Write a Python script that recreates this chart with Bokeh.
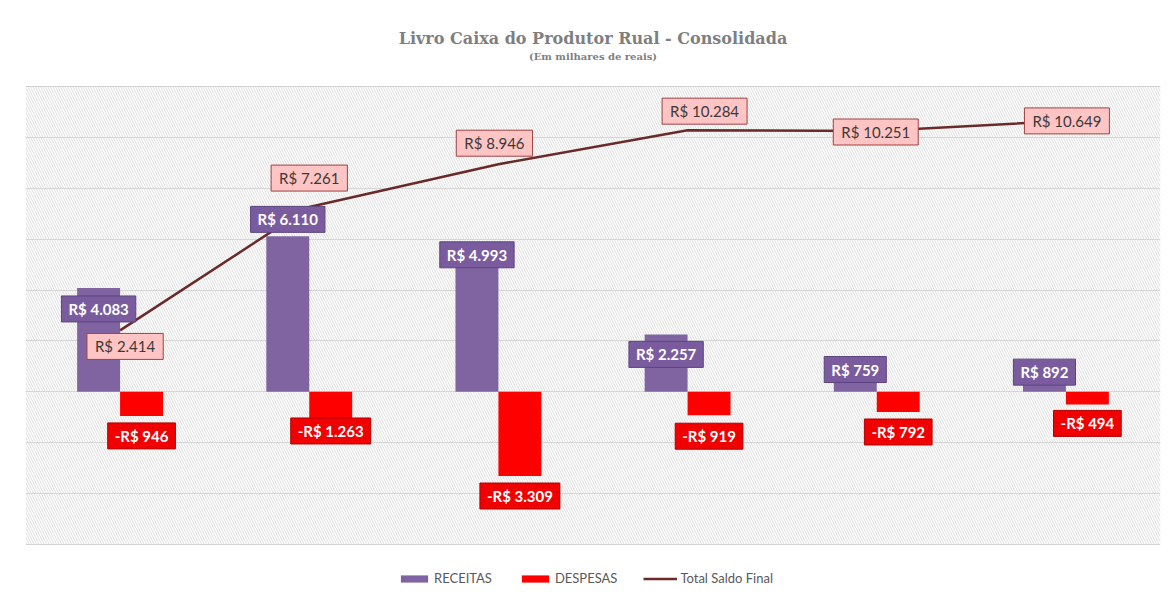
from bokeh.plotting import figure
from bokeh.models import (ColumnDataSource, Range1d, FixedTicker, BoxAnnotation,
                          Legend, LegendItem, Title, Grid)
from bokeh.transform import dodge
from bokeh.core.properties import value
from bokeh.embed import file_html
from bokeh.resources import INLINE

# ---- data (em milhares de reais) ----
periodos = [0, 1, 2, 3, 4, 5]
receitas = [4083, 6110, 4993, 2257, 759, 892]
despesas = [-946, -1263, -3309, -919, -792, -494]
saldo_final = [2414, 7261, 8946, 10284, 10251, 10649]
eixo_min, eixo_max, eixo_passo = -6000, 12000, 2000


def brl(v):
    s = f"R$ {abs(v):,}".replace(",", ".")
    return ("-" + s) if v < 0 else s


# label placement (screen pixel offsets, style only)
rec_dy = [21, -17, -10, 20, -3, 3]
des_dy = [20, 7, 20, 21, 20, 19]
sal_dx = [5, 0, -4, 17, -1, 1]
sal_dy = [16, -29, -21, -19, 1, 0]

src = ColumnDataSource(dict(
    x=periodos, receitas=receitas, despesas=despesas, saldo=saldo_final,
    rec_lbl=[brl(v) for v in receitas], des_lbl=[brl(v) for v in despesas],
    sal_lbl=[brl(v) for v in saldo_final],
    rec_dy=rec_dy, des_dy=des_dy, sal_dx=sal_dx, sal_dy=sal_dy,
))

# layout in pixels: plotting area 458px tall, with room above (subtitle) and below (legend)
area_px, above_px, below_px = 458, 38, 56
upp = (eixo_max - eixo_min) / area_px
frame_h = area_px + above_px + below_px

p = figure(frame_width=1135, frame_height=frame_h, output_backend="svg", toolbar_location=None,
           x_range=Range1d(-0.5, 5.5),
           y_range=Range1d(eixo_min - below_px * upp, eixo_max + above_px * upp),
           x_axis_type=None, y_axis_type=None,
           min_border_left=25, min_border_right=8, min_border_top=48, min_border_bottom=0)

p.outline_line_color = None
p.background_fill_color = "white"
p.border_fill_color = "white"
p.add_layout(Grid(dimension=1, ticker=FixedTicker(ticks=list(range(eixo_min, eixo_max + 1, eixo_passo))),
                  grid_line_color="#d0d0d0", grid_line_width=1))

hatch = BoxAnnotation(bottom=eixo_min, top=eixo_max, fill_alpha=0, line_alpha=0,
                      hatch_pattern="\\", hatch_color="#dedede",
                      hatch_scale=5, hatch_weight=1, level="underlay")
p.add_layout(hatch)

bw = 0.227
r_rec = p.vbar(x=dodge("x", -bw / 2, range=p.x_range), top="receitas", bottom=0, width=bw,
               source=src, fill_color="#8064A2", line_color=None)
r_des = p.vbar(x=dodge("x", bw / 2, range=p.x_range), top=0, bottom="despesas", width=bw,
               source=src, fill_color="#FF0000", line_color=None)
r_line = p.line(x="x", y="saldo", source=src, line_color="#6B2A2A", line_width=2.5)

font = value("Lato")
p.text(x=dodge("x", -bw / 2, range=p.x_range), y="receitas", text="rec_lbl", y_offset="rec_dy",
       source=src, text_align="center", text_baseline="middle", text_font=font,
       text_font_size="15px", text_font_style="bold", text_color="white",
       background_fill_color="#7A5C9E", border_line_color="#5B4580", border_line_width=1,
       padding=(7, 4))
p.text(x=dodge("x", bw / 2, range=p.x_range), y="despesas", text="des_lbl", y_offset="des_dy",
       source=src, text_align="center", text_baseline="middle", text_font=font,
       text_font_size="15px", text_font_style="bold", text_color="white",
       background_fill_color="#F00000", border_line_color="#B00000", border_line_width=1,
       padding=(7, 4))
p.text(x="x", y="saldo", text="sal_lbl", x_offset="sal_dx", y_offset="sal_dy",
       source=src, text_align="center", text_baseline="middle", text_font=font,
       text_font_size="15px", text_color="#3a3a3a",
       background_fill_color="#FFC4C4", border_line_color="#A04040", border_line_width=1,
       padding=(8, 4))

# subtitle
p.text(x=[(periodos[0] + periodos[-1]) / 2], y=[eixo_max], text=["(Em milhares de reais)"],
       y_offset=-30, text_align="center", text_baseline="middle",
       text_font=value("DejaVu Serif"), text_font_size="10px", text_font_style="bold",
       text_color="#7f7f7f")

legend = Legend(items=[LegendItem(label="RECEITAS", renderers=[r_rec]),
                       LegendItem(label="DESPESAS", renderers=[r_des]),
                       LegendItem(label="Total Saldo Final", renderers=[r_line])],
                orientation="horizontal", location=(372, 14),
                label_text_font="Lato", label_text_font_size="13px", label_text_color="#595959",
                glyph_width=34, glyph_height=9, spacing=26, padding=4, margin=0,
                border_line_color=None, background_fill_alpha=0, label_standoff=3)
p.add_layout(legend)

p.add_layout(Title(text="Livro Caixa do Produtor Rual - Consolidada", align="center",
                   text_font="DejaVu Serif", text_font_size="16px",
                   text_font_style="bold", text_color="#7f7f7f", standoff=2), "above")

open("out.html", "w").write(file_html(p, INLINE))
